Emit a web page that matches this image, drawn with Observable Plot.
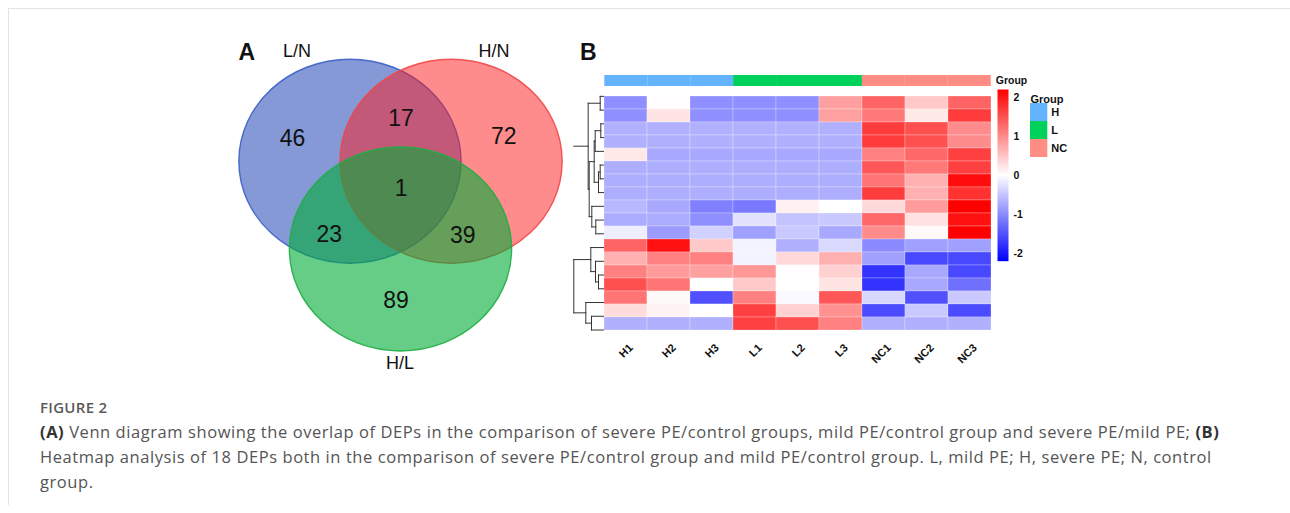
<!DOCTYPE html>
<html>
<head>
<meta charset="utf-8">
<script src="https://cdn.jsdelivr.net/npm/d3@7"></script>
<script src="https://cdn.jsdelivr.net/npm/@observablehq/plot@0.6"></script>
<style>
html,body{margin:0;padding:0;background:#fff;}
#fig{position:relative;width:1290px;height:513px;overflow:hidden;font-family:"Liberation Sans",Arial,Helvetica,sans-serif;}
#frame{position:absolute;left:8px;top:8px;width:1300px;height:496px;border-top:1px solid #e3e3e3;border-left:1px solid #e3e3e3;}
.part{position:absolute;}
.part svg{display:block;overflow:visible;}
#panelB{position:absolute;left:580px;top:38.7px;font-size:23px;font-weight:bold;color:#111;line-height:26px;}
#figlab{position:absolute;left:40px;top:397px;font-family:"Open Sans",sans-serif;font-size:15px;font-weight:600;line-height:21px;color:#5a5a5a;letter-spacing:0.3px;}
#captext{position:absolute;left:40px;top:418.5px;font-family:"Open Sans",sans-serif;font-size:16.5px;letter-spacing:0.57px;line-height:25px;color:#555;white-space:nowrap;}
#captext b{color:#333;}
</style>
</head>
<body>
<div id="fig">
  <div id="frame"></div>
  <div id="panelB">B</div>
  <div id="figlab">FIGURE 2</div>
  <div id="captext"><b>(A)</b> Venn diagram showing the overlap of DEPs in the comparison of severe PE/control groups, mild PE/control group and severe PE/mild PE; <b>(B)</b><br>Heatmap analysis of 18 DEPs both in the comparison of severe PE/control group and mild PE/control group. L, mild PE; H, severe PE; N, control<br>group.</div>
</div>
<script>
// ---------------- data ----------------
const vennSets = ["L/N", "H/N", "H/L"];
const vennCx = [-0.455, 0.455, 0];
const vennCy = [0.43, 0.43, -0.43];
const vennFill = ["#0b34b0", "#ff1a1a", "#00ac37"];
const vennFillOpacity = [0.5, 0.5, 0.6];
const vennStroke = ["#3b5fc8", "#f04848", "#1fae45"];
const vennLabelX = [-0.932, 0.842, -0.005];
const vennLabelY = [1.507, 1.507, -1.551];
const regionCounts = [46, 17, 72, 1, 23, 39, 89];
const regionX = [-0.971, 0.005, 0.930, 0.005, -0.641, 0.560, -0.041];
const regionY = [0.647, 0.843, 0.669, 0.166, -0.285, -0.301, -0.939];
const panelA = ["A"];
const panelAX = [-1.383];
const panelAY = [1.498];

const samples = ["H1", "H2", "H3", "L1", "L2", "L3", "NC1", "NC2", "NC3"];
const sampleGroup = ["H", "H", "H", "L", "L", "L", "NC", "NC", "NC"];
const groups = ["H", "L", "NC"];
const groupColors = ["#63b3ff", "#00d15a", "#ff8d84"];

// z-scores, rows top to bottom, columns = samples
const heat = [
  [-0.97, 0.02, -0.97, -0.97, -0.97, 0.82, 1.34, 0.47, 1.34],
  [-0.97, 0.23, -0.97, -0.97, -0.97, 0.82, 1.16, 0.18, 1.68],
  [-0.68, -0.68, -0.68, -0.68, -0.68, -0.68, 1.68, 1.51, 0.99],
  [-0.68, -0.68, -0.68, -0.68, -0.68, -0.68, 1.68, 1.51, 0.99],
  [0.20, -0.75, -0.75, -0.75, -0.75, -0.75, 1.10, 1.30, 1.65],
  [-0.70, -0.70, -0.70, -0.70, -0.70, -0.70, 1.45, 1.16, 1.65],
  [-0.70, -0.70, -0.70, -0.70, -0.70, -0.70, 1.20, 0.68, 2.10],
  [-0.70, -0.70, -0.70, -0.70, -0.70, -0.70, 1.68, 0.68, 1.78],
  [-0.61, -0.75, -1.10, -1.16, 0.12, 0.00, 0.33, 0.86, 2.20],
  [-0.72, -0.72, -0.97, -0.25, -0.52, -0.47, 1.30, 0.26, 2.05],
  [-0.15, -0.85, -0.40, -0.82, -0.47, -0.75, 1.00, 0.05, 2.20],
  [1.34, 2.05, 0.47, -0.10, -0.68, -0.33, -1.00, -0.82, -0.82],
  [0.68, 1.10, 1.10, -0.10, 0.33, 0.68, -0.82, -1.58, -1.58],
  [1.10, 0.86, 0.82, 0.90, 0.02, 0.40, -1.76, -0.75, -1.58],
  [1.51, 1.20, 0.00, 0.47, 0.00, 0.23, -1.76, -0.75, -1.23],
  [1.20, 0.04, -1.51, 1.10, -0.05, 1.45, -0.34, -1.51, -0.47],
  [0.30, 0.10, 0.00, 1.65, 0.40, 0.95, -1.55, -0.47, -1.55],
  [-0.68, -0.68, -0.68, 1.65, 1.51, 1.10, -0.68, -0.68, -0.68]
];
const colorDomain = [-2.2, 0, 2.2];
const colorRange = ["#0000ff", "#ffffff", "#ff0000"];
const colorTicks = [2, 1, 0, -1, -2];
const colorTickLabels = ["2", "1", "0", "-1", "-2"];

// row dendrogram: negative = leaf row (1-based), positive = merge (1-based)
const mergeA = [-1, -3, 2, -6, 4, 3, -10, -9, 6, 1, -14, -13, -12, -17, -16, 13];
const mergeB = [-2, -4, -5, -7, -8, 5, -11, 7, 8, 9, -15, 11, 12, -18, 14, 15];
const mergeH = [3.3, 2.7, 8.3, 3.3, 5.0, 9.3, 7.7, 11.7, 14.3, 15.3, 5.0, 8.0, 12.7, 12.0, 17.7, 29.7];
const rootStubMerge = [10];
const rootStubHeight = [29.7];

// ---------------- layout helpers ----------------
const FONT = "Liberation Sans, Arial, Helvetica, sans-serif";
const fig = document.getElementById("fig");
const baseStyle = {fontFamily: FONT, background: "transparent", overflow: "visible", maxWidth: "none", color: "#111"};
function place(node, left, top) {
  const d = document.createElement("div");
  d.className = "part";
  d.style.left = left + "px";
  d.style.top = top + "px";
  d.appendChild(node);
  fig.appendChild(d);
}

// ---------------- Venn diagram ----------------
const VW = 400, VH = 367.2;
const kx = VW / 3.6, ky = VH / 3.6;
const ellipseSymbol = {
  draw(ctx, size) {
    const rx = Math.sqrt(size / Math.PI), ry = rx * ky / kx, k = 0.5522847498;
    ctx.moveTo(rx, 0);
    ctx.bezierCurveTo(rx, k * ry, k * rx, ry, 0, ry);
    ctx.bezierCurveTo(-k * rx, ry, -rx, k * ry, -rx, 0);
    ctx.bezierCurveTo(-rx, -k * ry, -k * rx, -ry, 0, -ry);
    ctx.bezierCurveTo(k * rx, -ry, rx, -k * ry, rx, 0);
    ctx.closePath();
  }
};
const vennPlot = Plot.plot({
  width: VW, height: VH, marginTop: 0, marginRight: 0, marginBottom: 0, marginLeft: 0,
  style: baseStyle,
  x: {domain: [-1.8, 1.8], axis: null},
  y: {domain: [-1.8, 1.8], axis: null},
  marks: [
    ...vennSets.map((s, i) => Plot.dot([s], {
      x: () => vennCx[i], y: () => vennCy[i], r: kx, symbol: ellipseSymbol,
      fill: vennFill[i], fillOpacity: vennFillOpacity[i],
      stroke: vennStroke[i], strokeWidth: 1.4, strokeOpacity: 0.9
    })),
    Plot.text(vennSets, {x: (d, i) => vennLabelX[i], y: (d, i) => vennLabelY[i], fontSize: 18, fill: "#111"}),
    Plot.text(regionCounts, {x: (d, i) => regionX[i], y: (d, i) => regionY[i], text: d => String(d), fontSize: 23, fill: "#111"}),
    Plot.text(panelA, {x: (d, i) => panelAX[i], y: (d, i) => panelAY[i], fontSize: 23, fontWeight: "bold", fill: "#111"})
  ]
});
place(vennPlot, 399.5 - VW / 2, 204.25 - VH / 2);

// ---------------- Heatmap ----------------
const HX = 602.7, HY = 89.3, HW = 389.6, HH = 247.4;
const cells = [];
heat.forEach((row, i) => row.forEach((v, j) => cells.push({row: i, sample: samples[j], v})));
const rowIndex = heat.map((r, i) => i);
const colorScale = {type: "linear", domain: colorDomain, range: colorRange, clamp: true};

const heatPlot = Plot.plot({
  width: HW, height: HH + 45, marginTop: 0, marginRight: 0, marginBottom: 45, marginLeft: 0,
  style: baseStyle,
  x: {domain: samples, padding: 0, axis: null},
  y: {domain: rowIndex, padding: 0, axis: null},
  color: colorScale,
  marks: [
    Plot.cell(cells, {x: "sample", y: "row", fill: "v", stroke: "#ffffff", strokeWidth: 0.5, strokeOpacity: 0.5}),
    Plot.text(samples, {x: d => d, frameAnchor: "bottom", rotate: -45, textAnchor: "end", lineAnchor: "middle",
      dx: 5, dy: 9, fontSize: 11, fontWeight: "bold", fill: "#111"})
  ]
});
place(heatPlot, HX, HY);

// group annotation bar
const groupPlot = Plot.plot({
  width: HW + 40, height: 11, marginTop: 0, marginRight: 40, marginBottom: 0, marginLeft: 0,
  style: baseStyle,
  x: {domain: samples, padding: 0, axis: null},
  color: {domain: groups, range: groupColors},
  marks: [
    Plot.cell(samples, {x: d => d, fill: (d, i) => sampleGroup[i]}),
    Plot.text(["Group"], {frameAnchor: "right", textAnchor: "start", dx: 3, fontSize: 10.5, fontWeight: "bold", fill: "#111"})
  ]
});
place(groupPlot, HX, 74.7);

// dendrogram
const nodeY = n => n < 0 ? (-n - 1) + 0.5 : (nodeY(mergeA[n - 1]) + nodeY(mergeB[n - 1])) / 2;
const nodeH = n => n < 0 ? 0 : mergeH[n - 1];
const segs = [];
mergeH.forEach((h, k) => {
  const a = mergeA[k], b = mergeB[k];
  segs.push({x1: nodeH(a), y1: nodeY(a), x2: h, y2: nodeY(a)});
  segs.push({x1: nodeH(b), y1: nodeY(b), x2: h, y2: nodeY(b)});
  segs.push({x1: h, y1: nodeY(a), x2: h, y2: nodeY(b)});
});
rootStubMerge.forEach((m, i) => segs.push({x1: mergeH[m - 1], y1: nodeY(m), x2: rootStubHeight[i], y2: nodeY(m)}));
const DW = 31;
const dendroPlot = Plot.plot({
  width: DW, height: HH, marginTop: 0, marginRight: 0, marginBottom: 0, marginLeft: 0,
  style: baseStyle,
  x: {domain: [DW, 0], range: [0, DW], axis: null},
  y: {domain: [0, heat.length], range: [0, HH], axis: null},
  marks: [
    Plot.link(segs, {x1: "x1", y1: "y1", x2: "x2", y2: "y2", stroke: "#333", strokeWidth: 1, strokeLinecap: "square"})
  ]
});
place(dendroPlot, HX - DW, HY);

// colour bar
const CBW = 11, CBH = 171.7;
const cbPlot = Plot.plot({
  width: CBW + 25, height: CBH, marginTop: 0, marginRight: 25, marginBottom: 0, marginLeft: 0,
  style: baseStyle,
  x: {domain: [0, 1], axis: null},
  y: {domain: [colorDomain[0], colorDomain[2]], axis: null},
  color: colorScale,
  marks: [
    Plot.raster({x1: 0, x2: 1, y1: colorDomain[0], y2: colorDomain[2], fill: (x, y) => y, pixelSize: 1, imageRendering: "auto"}),
    Plot.axisY({anchor: "right", ticks: colorTicks, tickFormat: d => colorTickLabels[colorTicks.indexOf(d)],
      tickSize: 0, tickPadding: 5, fontSize: 10.5, fontWeight: "bold", label: null})
  ]
});
place(cbPlot, 997, HY);

// group legend
const LSW = 17.3;
const legendPlot = Plot.plot({
  width: 50, height: 70, marginTop: 16, marginRight: 50 - LSW, marginBottom: 0, marginLeft: 0,
  style: baseStyle,
  y: {domain: groups, padding: 0, axis: null},
  color: {domain: groups, range: groupColors},
  marks: [
    Plot.cell(groups, {y: d => d, fill: d => d}),
    Plot.text(groups, {y: d => d, frameAnchor: "right", textAnchor: "start", dx: 3.5, fontSize: 11, fontWeight: "bold", fill: "#111"}),
    Plot.text(["Group"], {frameAnchor: "top-left", textAnchor: "start", dy: -8.6, fontSize: 11, fontWeight: "bold", fill: "#111"})
  ]
});
place(legendPlot, 1030, 87.3);
</script>
</body>
</html>
